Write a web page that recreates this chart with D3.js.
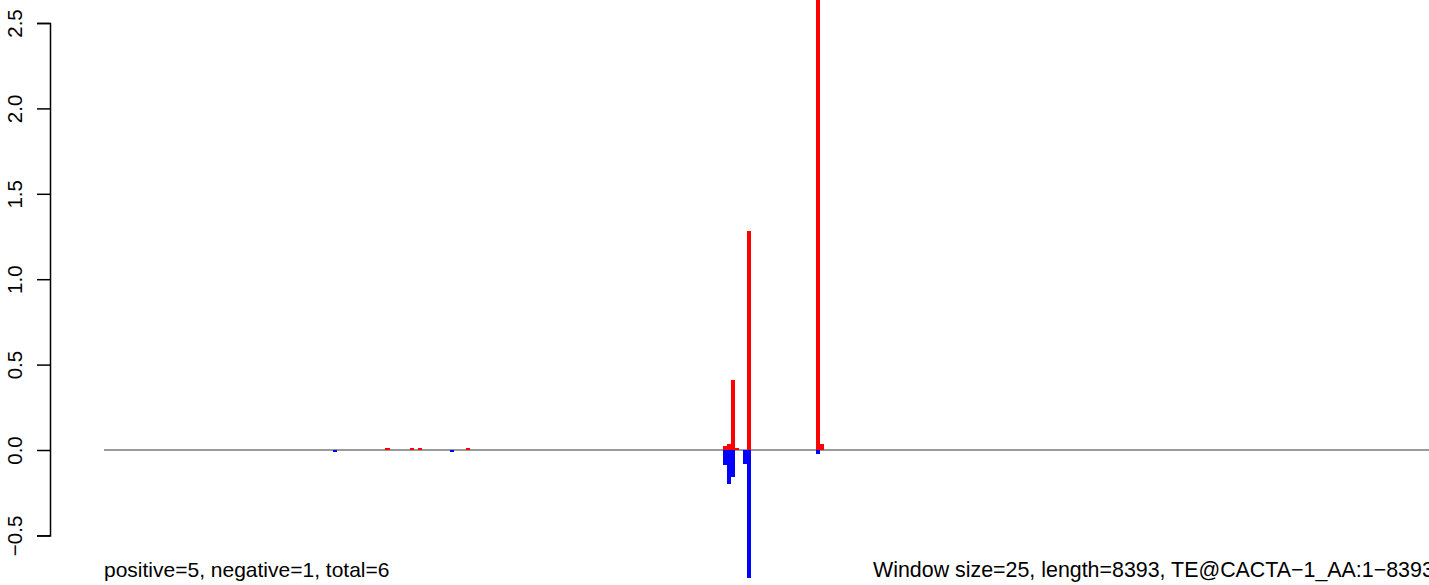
<!DOCTYPE html>
<html>
<head>
<meta charset="utf-8">
<script src="https://cdn.jsdelivr.net/npm/d3@7"></script>
<style>
  html, body { margin: 0; padding: 0; background: #fff; }
  svg { display: block; }
  text { font-family: "Liberation Sans", Arial, Helvetica, sans-serif; }
</style>
</head>
<body>
<svg id="chart" width="1429" height="585"></svg>
<script>
// ---- data ----
const seqLength = 8393;
const windowSize = 25;
const yTicks = [-0.5, 0.0, 0.5, 1.0, 1.5, 2.0, 2.5];
const yTickLabels = ["\u22120.5", "0.0", "0.5", "1.0", "1.5", "2.0", "2.5"];
// window indices (0-based) and values of positive-strand signal
const posWindows = [70, 76, 78, 90, 154, 155, 156, 157, 160, 177, 178];
const posValues  = [0.012, 0.012, 0.012, 0.012, 0.023, 0.035, 0.41, 0.01, 1.285, 2.9, 0.035];
// window indices and values of negative-strand signal
const negWindows = [57, 86, 154, 155, 156, 159, 160, 177];
const negValues  = [-0.012, -0.012, -0.09, -0.2, -0.157, -0.082, -0.752, -0.023];
const leftNote = "positive=5, negative=1, total=6";
const rightNote = "Window size=25, length=8393, TE@CACTA\u22121_AA:1\u22128393";

// ---- layout ----
const svg = d3.select("#chart");
const x = d3.scaleLinear().domain([0, seqLength]).range([104, 1454]);
const y = d3.scaleLinear().domain([-0.5, 2.5]).range([535.4, 23]);

// baseline at zero
svg.append("line")
  .attr("x1", x(0)).attr("x2", x(seqLength))
  .attr("y1", y(0)).attr("y2", y(0))
  .attr("stroke", "#7a7a7a").attr("stroke-width", 1.4);

const pos = posWindows.map((w, i) => ({ w, v: posValues[i] }));
const neg = negWindows.map((w, i) => ({ w, v: negValues[i] }));

svg.append("g").selectAll("rect").data(pos).join("rect")
  .attr("x", d => x(d.w * windowSize))
  .attr("width", d => x((d.w + 1) * windowSize) - x(d.w * windowSize))
  .attr("y", d => y(d.v))
  .attr("height", d => y(0) - y(d.v))
  .attr("fill", "#FF0000")
  .attr("shape-rendering", "crispEdges");

svg.append("g").selectAll("rect").data(neg).join("rect")
  .attr("x", d => x(d.w * windowSize))
  .attr("width", d => x((d.w + 1) * windowSize) - x(d.w * windowSize))
  .attr("y", y(0))
  .attr("height", d => y(d.v) - y(0))
  .attr("fill", "#0000FF")
  .attr("shape-rendering", "crispEdges");

// y axis
const yAxis = d3.axisLeft(y)
  .tickValues(yTicks)
  .tickFormat((d, i) => yTickLabels[i])
  .tickSizeOuter(0)
  .tickSize(13)
  .tickPadding(0);
const gy = svg.append("g").attr("transform", "translate(50,0)").call(yAxis);
gy.select(".domain").attr("stroke", "#000").attr("stroke-width", 1.5);
gy.selectAll(".tick line").attr("stroke", "#000").attr("stroke-width", 1.5);
gy.selectAll(".tick text")
  .attr("x", 0).attr("y", 0).attr("dy", 0)
  .attr("transform", "translate(-28,0) rotate(-90)")
  .attr("text-anchor", "middle")
  .attr("fill", "#000")
  .style("font-size", "20.5px")
  .style("font-family", "'Liberation Sans', Arial, sans-serif");

// notes
svg.append("text").attr("x", 104).attr("y", 577)
  .style("font-size", "21px").attr("fill", "#000").text(leftNote);
svg.append("text").attr("x", 873).attr("y", 577)
  .style("font-size", "21.4px").attr("fill", "#000").text(rightNote);
</script>
</body>
</html>
